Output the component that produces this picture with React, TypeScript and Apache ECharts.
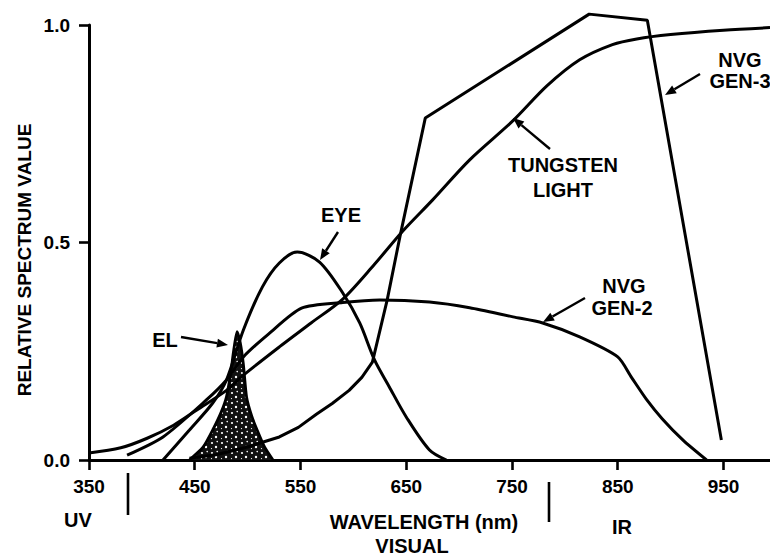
import React, { useEffect, useRef } from "react";
import * as echarts from "echarts";

// ---- Data ----
const xTicks = [350, 450, 550, 650, 750, 850, 950];
const yTicks = [0, 0.5, 1.0];

const tungstenNm = [350, 380, 405, 430, 452, 480, 496, 530, 560, 590, 620, 647, 675, 710, 751, 783, 814, 845, 868, 900, 950, 994];
const tungstenVal = [0.016, 0.028, 0.05, 0.08, 0.115, 0.16, 0.195, 0.26, 0.315, 0.37, 0.45, 0.527, 0.598, 0.69, 0.78, 0.86, 0.92, 0.955, 0.968, 0.978, 0.988, 0.994];

const eyeNm = [420, 445, 467, 480, 496, 514, 530, 547, 568, 590, 606, 620, 634, 650, 672, 688];
const eyeVal = [0, 0.069, 0.131, 0.184, 0.299, 0.398, 0.453, 0.478, 0.455, 0.384, 0.315, 0.23, 0.168, 0.099, 0.023, 0];

const gen2Nm = [386, 420, 461, 480, 496, 520, 551, 590, 625, 672, 710, 751, 779, 814, 850, 863, 877, 892, 912, 934];
const gen2Val = [0.011, 0.053, 0.138, 0.184, 0.237, 0.29, 0.349, 0.362, 0.368, 0.363, 0.35, 0.329, 0.315, 0.283, 0.237, 0.19, 0.14, 0.095, 0.045, 0];

const gen3Nm = [445, 470, 500, 530, 548, 565, 580, 596, 608, 618, 632, 644, 668, 823, 878, 948];
const gen3Val = [0.004, 0.012, 0.03, 0.053, 0.075, 0.105, 0.13, 0.16, 0.19, 0.225, 0.368, 0.513, 0.786, 1.025, 1.011, 0.046];

const elNm = [445, 458, 467, 475, 480, 484, 487, 490, 493, 496, 499, 504, 509, 516, 524];
const elVal = [0, 0.03, 0.069, 0.11, 0.145, 0.2, 0.255, 0.295, 0.27, 0.22, 0.145, 0.1, 0.069, 0.03, 0];

const zip = (xs: number[], ys: number[]) => xs.map((x, i) => [x, ys[i]]);

const FONT = '"Liberation Sans", Arial, Helvetica, sans-serif';

function arrow(x1: number, y1: number, x2: number, y2: number) {
  const a = Math.atan2(y2 - y1, x2 - x1);
  const L = 11;
  const W = 4.5;
  const c = Math.cos(a);
  const s = Math.sin(a);
  const bx = x2 - L * c;
  const by = y2 - L * s;
  return [
    { type: "line", shape: { x1, y1, x2: bx, y2: by }, style: { stroke: "#000", lineWidth: 2.4 }, silent: true },
    {
      type: "polygon",
      shape: { points: [[x2, y2], [bx + W * s, by - W * c], [bx - W * s, by + W * c]] },
      style: { fill: "#000" },
      silent: true,
    },
  ];
}

function label(text: string, x: number, y: number, size = 20, rotation = 0) {
  return {
    type: "text",
    x,
    y,
    rotation,
    silent: true,
    style: {
      text,
      fill: "#000",
      font: `bold ${size}px ${FONT}`,
      align: "center",
      verticalAlign: "middle",
    },
  };
}

const speckleSvg =
  "<svg xmlns='http://www.w3.org/2000/svg' width='10' height='10'>" +
  "<rect width='10' height='10' fill='#111'/>" +
  "<circle cx='2' cy='3' r='1.1' fill='#fff'/>" +
  "<circle cx='7.2' cy='1.6' r='0.8' fill='#fff'/>" +
  "<circle cx='6' cy='7' r='1.2' fill='#fff'/>" +
  "<circle cx='1.5' cy='8.6' r='0.6' fill='#fff'/>" +
  "</svg>";
const speckleUrl = "data:image/svg+xml;charset=utf-8," + encodeURIComponent(speckleSvg);

export default function App() {
  const ref = useRef<HTMLDivElement>(null);

  useEffect(() => {
    if (!ref.current) return;
    const chart = echarts.init(ref.current, undefined, { renderer: "svg" });

    const lineSeries = (name: string, data: number[][], smooth: number | boolean) => ({
      name,
      type: "line",
      data,
      smooth,
      symbol: "none",
      showSymbol: false,
      clip: false,
      silent: true,
      lineStyle: { color: "#000", width: 3 },
      z: 3,
    });

    const option: any = {
      animation: false,
      backgroundColor: "#fff",
      grid: { left: 89, right: 0, top: 25, bottom: 96, containLabel: false },
      xAxis: {
        type: "value",
        min: 350,
        max: 994,
        axisLine: { onZero: false, lineStyle: { color: "#000", width: 3 } },
        axisTick: { customValues: xTicks, length: 10, lineStyle: { color: "#000", width: 2.6 } },
        axisLabel: {
          customValues: xTicks,
          margin: 17,
          color: "#000",
          fontSize: 19,
          fontWeight: "bold",
          fontFamily: FONT,
        },
        splitLine: { show: false },
      },
      yAxis: {
        type: "value",
        min: 0,
        max: 1,
        axisLine: { show: true, onZero: false, lineStyle: { color: "#000", width: 3 } },
        axisTick: { show: true, customValues: yTicks, length: 10, lineStyle: { color: "#000", width: 2.6 } },
        axisLabel: {
          customValues: yTicks,
          formatter: (v: number) => v.toFixed(1),
          margin: 19,
          color: "#000",
          fontSize: 19,
          fontWeight: "bold",
          fontFamily: FONT,
        },
        splitLine: { show: false },
      },
      series: [
        {
          name: "EL",
          type: "line",
          data: zip(elNm, elVal),
          smooth: 0.2,
          symbol: "none",
          showSymbol: false,
          clip: false,
          silent: true,
          lineStyle: { color: "#000", width: 2.8 },
          areaStyle: {
            color: { image: speckleUrl, repeat: "repeat", imageWidth: 10, imageHeight: 10 },
            opacity: 1,
          },
          z: 2,
        },
        lineSeries("Tungsten light", zip(tungstenNm, tungstenVal), 0.3),
        lineSeries("Eye", zip(eyeNm, eyeVal), 0.3),
        lineSeries("NVG Gen-2", zip(gen2Nm, gen2Val), 0.25),
        lineSeries("NVG Gen-3", zip(gen3Nm, gen3Val), false),
      ],
      graphic: [
        label("RELATIVE SPECTRUM VALUE", 24, 260, 19, Math.PI / 2),
        label("EYE", 341, 215),
        ...arrow(338, 232, 320, 260),
        label("EL", 165, 340),
        ...arrow(181, 337, 228, 345),
        label("TUNGSTEN", 563, 165),
        label("LIGHT", 563, 190),
        ...arrow(550, 149, 513, 118),
        label("NVG", 740, 60),
        label("GEN-3", 740, 81),
        ...arrow(700, 74, 665, 95),
        label("NVG", 624, 286),
        label("GEN-2", 622, 308),
        ...arrow(585, 298, 543, 322),
        label("UV", 78, 520),
        label("WAVELENGTH (nm)", 424, 522),
        label("VISUAL", 412, 546),
        label("IR", 622, 527),
        { type: "line", shape: { x1: 128, y1: 473, x2: 128, y2: 515 }, style: { stroke: "#000", lineWidth: 2.6 }, silent: true },
        { type: "line", shape: { x1: 549, y1: 482, x2: 549, y2: 522 }, style: { stroke: "#000", lineWidth: 2.6 }, silent: true },
      ],
    };

    chart.setOption(option);
    return () => chart.dispose();
  }, []);

  return (
    <div
      ref={ref}
      style={{ position: "fixed", left: 0, top: 0, width: 770, height: 556, background: "#fff" }}
    />
  );
}
